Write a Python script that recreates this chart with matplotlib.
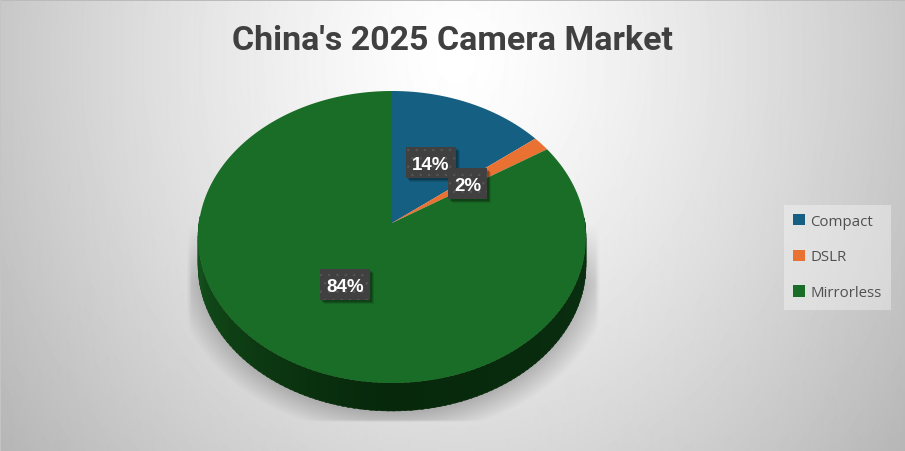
import numpy as np
import matplotlib
matplotlib.use("Agg")
import matplotlib.pyplot as plt
from matplotlib.patches import Rectangle

categories = ["Compact", "DSLR", "Mirrorless"]
values = [14.4, 1.6, 84.0]
colors = ["#156082", "#E97132", "#1A6D26"]
title = "China's 2025 Camera Market"

W, H = 905, 452
# pie geometry in pixels, the pie is tilted so the apex is not the ellipse middle
apex_x, apex_y = 392, 224
rx = 193.1
ry = 144.66
tilt = 0.0959
depth = 28

plt.rcParams["hatch.linewidth"] = 0.6


def project(theta, r=1.0):
	# theta clockwise from 12 o'clock, perspective on the unit circle
	u = r * np.sin(theta)
	v = r * np.cos(theta)
	w = 1 + tilt * v
	return apex_x + rx * u / w, apex_y - ry * v / w


def blend(c1, c2, t):
	c1 = np.array(matplotlib.colors.to_rgb(c1))
	c2 = np.array(matplotlib.colors.to_rgb(c2))
	return c1 + (c2 - c1) * t


fig = plt.figure(figsize=(W / 100, H / 100), dpi=100)
ax = fig.add_axes([0, 0, 1, 1])
ax.axis("off")

# background gradient
yy, xx = np.mgrid[0:H, 0:W]
dist = np.sqrt(((xx - 455) / 460) ** 2 + ((yy - 60) / 530) ** 2)
bg = np.clip(1.0 - 0.22 * dist ** 1.3, 0, 1)

# soft shadow under the pie
ex = (xx - 392) / 222
ey = (yy - 262) / 175
shadow = np.clip((1.0 - np.sqrt(ex ** 2 + ey ** 2)) / 0.17, 0, 1)
shadow = shadow * np.clip((yy - 225) / 60, 0, 1) * np.clip((423 - yy) / 3, 0, 1)
shadow = shadow * np.clip((xx - 186) / 5, 0, 1) * np.clip((599 - xx) / 5, 0, 1)
bg = bg * (1 - 0.27 * shadow)
ax.imshow(bg, cmap="gray", vmin=0, vmax=1, extent=(0, W, H, 0), aspect="auto", zorder=0, interpolation="bilinear")
ax.set_xlim(0, W)
ax.set_ylim(H, 0)

# thin frame of the original slide
ax.axhspan(0, 2, color="#BBBBBB", lw=0, zorder=1)
ax.axvspan(0, 1, color="#C4C4C4", lw=0, zorder=1)

# side wall, brighter on the left
fracs = np.array(values) / sum(values)
edges = np.concatenate([[0], np.cumsum(fracs)]) * 2 * np.pi
side = np.linspace(np.radians(88), np.radians(272), 120)
for t0, t1 in zip(side[:-1], side[1:]):
	ts = np.linspace(t0, t1 + 0.01, 4)
	x, y = project(ts)
	mid = (t0 + t1) / 2
	if mid < np.pi:
		col = blend("#07280B", "#0A2F10", (np.pi - mid) / (np.pi / 2))
	else:
		col = blend("#07280B", "#15561D", min((mid - np.pi) / (np.pi / 2), 1) ** 1.2)
	ax.fill(np.r_[x, x[::-1]], np.r_[y, y[::-1] + depth], color=col, lw=0.3, zorder=2)

# top of the pie
handles = []
for i, cat in enumerate(categories):
	ts = np.linspace(edges[i], edges[i + 1], 200)
	x, y = project(ts)
	h = ax.fill(np.r_[apex_x, x], np.r_[apex_y, y], color=colors[i], lw=0, label=cat, zorder=3)[0]
	handles.append(h)

# data labels: box, stacked copies for the shadow, then the text
label_box = [(406, 148, 50, 31), (448, 169, 39, 31), (320, 270, 50, 31)]
for i, v in enumerate(values):
	bx, by, bw, bh = label_box[i]
	z = 4 + i * 0.1
	for off, a in [(4, 0.1), (3, 0.15), (2, 0.2)]:
		ax.add_patch(Rectangle((bx + off, by + off), bw, bh, fc="black", alpha=a, lw=0, zorder=z))
	ax.add_patch(Rectangle((bx, by), bw, bh, fc="#404040", ec="#555555", lw=0, hatch="..", zorder=z + 0.01))
	ax.text(bx + bw / 2, by + bh / 2 + 2.5, f"{round(v)}%", color="white", fontsize=13.5, fontweight="bold",
		family="Liberation Sans", ha="center", va="center", zorder=z + 0.02)

ax.text(452, 41, title, fontsize=24.5, fontweight="bold", family="Roboto", color="#404040", ha="center", va="center", zorder=5)

leg = ax.legend(handles=handles, loc="center left", bbox_to_anchor=(784 / W, 1 - 258 / H), frameon=True, fancybox=False,
	framealpha=0.35, facecolor="white", edgecolor="none", prop=dict(family="Open Sans", size=10.8), labelcolor="#505050",
	handlelength=0.8, handleheight=0.8, handletextpad=0.33, labelspacing=1.38, borderpad=0.62, borderaxespad=0)
leg.set_zorder(5)

fig.savefig("out.png", dpi=100)
